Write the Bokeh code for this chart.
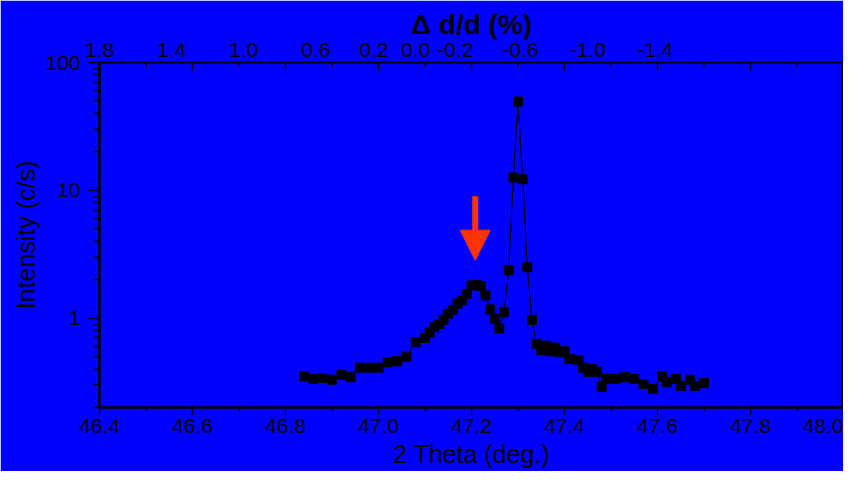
import math
from bokeh.plotting import figure
from bokeh.models import (LinearAxis, FixedTicker, PrintfTickFormatter,
                          CustomJSTickFormatter, Range1d, Arrow, NormalHead, ColumnDataSource)
from bokeh.embed import file_html
from bokeh.resources import INLINE

# ---------------- data ----------------
two_theta = [46.84, 46.86, 46.88, 46.90, 46.92, 46.94, 46.96, 46.98, 47.00, 47.02, 47.04, 47.06,
             47.08,
             47.10, 47.11, 47.12, 47.13, 47.14, 47.15, 47.16, 47.17, 47.18, 47.19, 47.20, 47.21,
             47.22, 47.23, 47.24, 47.25, 47.26, 47.27, 47.28, 47.29, 47.30, 47.31, 47.32, 47.33,
             47.34, 47.35, 47.36, 47.37, 47.38, 47.39, 47.40, 47.41,
             47.43, 47.44, 47.45, 47.46, 47.47, 47.48, 47.49,
             47.51, 47.53, 47.55, 47.57, 47.59,
             47.61, 47.62, 47.64, 47.65, 47.67, 47.68, 47.70]
intensity = [0.35, 0.335, 0.34, 0.33, 0.36, 0.345, 0.41, 0.41, 0.41, 0.45, 0.46, 0.50,
             0.65,
             0.70, 0.77, 0.85, 0.90, 0.97, 1.08, 1.16, 1.30, 1.38, 1.55, 1.80, 1.82,
             1.78, 1.51, 1.17, 0.99, 0.83, 1.11, 2.37, 12.6, 49.5, 12.2, 2.5, 0.97,
             0.63, 0.56, 0.61, 0.55, 0.59, 0.54, 0.55, 0.48,
             0.47, 0.41, 0.38, 0.40, 0.38, 0.29, 0.335,
             0.335, 0.345, 0.335, 0.305, 0.28,
             0.35, 0.315, 0.335, 0.295, 0.33, 0.295, 0.31]

x_major_ticks = [46.4, 46.6, 46.8, 47.0, 47.2, 47.4, 47.6, 47.8, 48.0]
x_minor_ticks = [46.5, 46.7, 46.9, 47.1, 47.3, 47.5, 47.7, 47.9]
y_major_ticks = [1, 10, 100]
y_minor_ticks = [0.2, 0.3, 0.4, 0.5, 0.6, 0.7, 0.8, 0.9,
                 2, 3, 4, 5, 6, 7, 8, 9, 20, 30, 40, 50, 60, 70, 80, 90]
top_label_text = ["1.8", "1.4", "1.0", "0.6", "0.2", "0.0", "-0.2", "-0.6", "-1.0", "-1.4"]
top_label_pos = [46.40, 46.555, 46.71, 46.865, 46.99, 47.08, 47.165, 47.305, 47.45, 47.595]

arrow_x = 47.208        # marked shoulder position
arrow_top, arrow_tip = 9.0, 2.84

assert len(two_theta) == len(intensity)

X_RANGE = (46.4, 48.0)
Y_RANGE = (0.2, 100)
BG = "#0000FF"
FONT = "Liberation Sans"
TICK_FS = "21px"
LABEL_FS = "25px"

p = figure(width=843, height=471, x_range=Range1d(*X_RANGE), y_range=Range1d(*Y_RANGE),
           y_axis_type="log", output_backend="svg", toolbar_location=None,
           min_border=0,
           min_border_left=99, min_border_right=0, min_border_top=62, min_border_bottom=64)
p.background_fill_color = BG
p.border_fill_color = BG
p.outline_line_color = "black"
p.outline_line_width = 2
p.xgrid.visible = False
p.ygrid.visible = False


def style(ax):
    ax.axis_line_color = "black"
    ax.axis_line_width = 2
    ax.major_tick_line_color = "black"
    ax.minor_tick_line_color = "black"
    ax.major_tick_line_width = 1.5
    ax.minor_tick_line_width = 1.5
    ax.major_label_text_color = "black"
    ax.major_label_text_font = FONT
    ax.major_label_text_font_size = TICK_FS
    ax.axis_label_text_color = "black"
    ax.axis_label_text_font = FONT
    ax.axis_label_text_font_style = "normal"
    ax.axis_label_text_font_size = LABEL_FS


# bottom axis
xb = p.xaxis[0]
style(xb)
xb.ticker = FixedTicker(ticks=x_major_ticks, minor_ticks=x_minor_ticks)
xb.formatter = PrintfTickFormatter(format="%.1f")
xb.major_tick_out = 7
xb.major_tick_in = 0
xb.minor_tick_out = 4
xb.minor_tick_in = 0
xb.major_label_standoff = 4
xb.axis_label = "2 Theta (deg.)"
xb.axis_label_standoff = 4

# left axis
yl = p.yaxis[0]
style(yl)
yl.ticker = FixedTicker(ticks=y_major_ticks, minor_ticks=y_minor_ticks)
yl.formatter = PrintfTickFormatter(format="%d")
yl.major_tick_out = 11
yl.major_tick_in = 0
yl.minor_tick_out = 6
yl.minor_tick_in = 0
yl.major_label_standoff = 8
yl.axis_label = "Intensity (c/s)"
yl.axis_label_standoff = 2

# top axis: delta d/d labels (tick marks drawn below as inward dashes)
xl = LinearAxis()
style(xl)
xl.axis_line_color = None
xl.major_tick_line_color = None
xl.minor_tick_line_color = None
xl.major_tick_out = 0
xl.major_tick_in = 0
xl.ticker = FixedTicker(ticks=top_label_pos, minor_ticks=[])
xl.formatter = CustomJSTickFormatter(args=dict(pos=top_label_pos, labs=top_label_text), code="""
    for (let i = 0; i < pos.length; i++) { if (Math.abs(pos[i] - tick) < 1e-6) return labs[i]; }
    return tick.toFixed(1);
""")
xl.major_label_standoff = 6
xl.axis_label = "\u0394 d/d (%)"
xl.axis_label_text_font_size = "28px"
xl.axis_label_text_font_style = "bold"
xl.axis_label_standoff = 0
p.add_layout(xl, "above")

# inward tick marks on the top edge (half of each dash is clipped by the frame)
p.scatter(x=x_major_ticks, y=[Y_RANGE[1]] * len(x_major_ticks), marker="dash",
          angle=math.pi / 2, size=16, line_color="black", line_width=1.5)
p.scatter(x=x_minor_ticks, y=[Y_RANGE[1]] * len(x_minor_ticks), marker="dash",
          angle=math.pi / 2, size=8, line_color="black", line_width=1.5)

src = ColumnDataSource(dict(x=two_theta, y=intensity))
p.line("x", "y", source=src, line_color="black", line_width=1.2)
p.scatter("x", "y", source=src, marker="square", size=9, fill_color="black", line_color="black")

p.add_layout(Arrow(end=NormalHead(size=30, fill_color="#FF3300", line_color="#FF3300", line_width=1),
                   x_start=arrow_x, y_start=arrow_top, x_end=arrow_x, y_end=arrow_tip,
                   line_color="#FF3300", line_width=6))

open("out.html", "w").write(file_html(p, INLINE))
